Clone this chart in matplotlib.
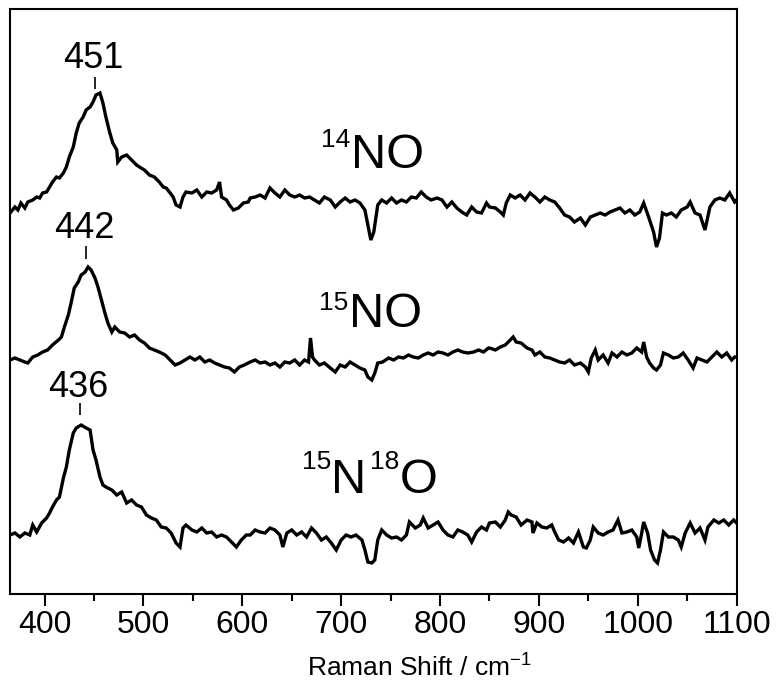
import matplotlib
matplotlib.use("Agg")
import matplotlib.pyplot as plt
from matplotlib.ticker import MultipleLocator
from matplotlib.transforms import offset_copy

plt.rcParams['font.family'] = ['Liberation Sans', 'DejaVu Sans']
plt.rcParams['mathtext.fontset'] = 'custom'
plt.rcParams['mathtext.rm'] = 'Liberation Sans'
plt.rcParams['mathtext.it'] = 'Liberation Sans'

# spectra as stacked in the figure (arbitrary intensity units, offsets included)
x_14no = [365, 370, 373, 376, 380, 383, 388, 392, 395, 398, 402, 405, 408, 412, 415,
          419, 422, 425, 429, 432, 435, 439, 442, 446, 449, 452, 456, 459, 462, 466,
          469, 473, 474, 478, 483, 488, 493, 496, 501, 506, 511, 516, 520, 523, 527,
          530, 533, 537, 540, 543, 549, 554, 559, 564, 569, 574, 577, 579, 584, 587,
          591, 596, 601, 606,
          608, 613, 618, 623, 628, 633, 638, 643, 648, 653, 658, 663, 668, 673, 678,
          683, 689, 694, 699, 704, 709, 714, 719, 724, 727, 730, 733, 737, 741, 746,
          751, 756, 761, 766, 771, 776, 781, 786, 791, 797, 802, 807, 812, 817, 822,
          827, 832, 837, 842, 847,
          850, 856, 861, 864, 867, 871, 876, 881, 886, 891, 896, 901, 906, 911, 916,
          921, 926, 931, 936, 942, 947, 952, 957, 962, 967, 972, 977, 982, 987, 992,
          997, 1002, 1006, 1011, 1016, 1019, 1022, 1025, 1029, 1034, 1039, 1044, 1050, 1053, 1058, 1063,
          1068, 1073, 1078, 1083, 1088, 1093, 1098, 1100]
y_14no = [387, 393, 390, 397, 392, 398, 400, 403, 402, 407, 408, 413, 418, 423, 422,
          427, 433, 443, 453, 467, 477, 483, 490, 493, 498, 505, 507, 497, 483, 467,
          457, 450, 438, 443, 445, 440, 435, 433, 430, 425, 423, 418, 413, 412, 407,
          403, 395, 393, 403, 408, 407, 410, 403, 408, 407, 410, 418, 403, 400, 395,
          390, 392, 397, 398,
          402, 403, 405, 402, 412, 407, 403, 410, 405, 403, 405, 402, 403, 400, 397,
          403, 400, 393, 398, 402, 398, 400, 397, 390, 375, 360, 368, 395, 400, 397,
          402, 397, 400, 398, 403, 402, 408, 403, 400, 402, 400, 393, 398, 392, 388,
          385, 393, 388, 387, 397,
          393, 392, 388, 385, 397, 405, 402, 405, 400, 407, 403, 398, 403, 400, 398,
          392, 385, 383, 378, 382, 375, 383, 385, 387, 385, 388, 390, 392, 387, 390,
          385, 388, 397, 383, 368, 353, 362, 387, 385, 387, 383, 390, 393, 398, 387, 385,
          370, 393, 400, 402, 400, 407, 398, 400]

x_15no = [365, 370, 375, 380, 383, 388, 393, 398, 403, 408, 414, 417, 420, 424, 427,
          430, 434, 437, 441, 444, 447, 451, 454, 457, 461, 464, 468, 471, 476, 481,
          486, 491, 496, 501, 506, 511, 516, 522, 527, 532, 537, 542, 547, 552, 557,
          562, 567, 572, 577, 582, 587, 592, 597, 602,
          608, 613, 618, 623, 628, 633, 638, 643, 648, 653, 658, 663, 667, 668, 669,
          671, 673, 678, 683, 689, 694, 699, 704, 709, 714, 719, 724, 727, 731, 734,
          737, 742, 748, 753, 758, 763, 768, 773, 778, 783, 788, 793, 798, 803, 808,
          813, 818, 823, 828, 834, 839, 844, 849,
          850, 856, 861, 866, 871, 874, 877, 882, 888, 893, 896, 901, 906, 911, 916,
          921, 926, 931, 936, 942, 947, 950, 953, 957, 960, 965, 970, 974, 979, 984,
          989, 994, 999, 1004, 1006, 1009, 1012, 1016, 1019, 1023, 1026, 1031, 1036, 1041, 1046,
          1051, 1056, 1060, 1065, 1070, 1075, 1080, 1085, 1090, 1095, 1098, 1100]
y_15no = [240, 242, 240, 238, 237, 243, 245, 248, 250, 255, 260, 263, 273, 285, 298,
          312, 318, 325, 328, 333, 330, 322, 313, 302, 287, 277, 268, 273, 268, 267,
          263, 265, 260, 257, 252, 250, 248, 245, 240, 235, 237, 240, 243, 240, 243,
          238, 240, 237, 235, 233, 232, 228, 233, 235,
          238, 240, 237, 238, 235, 237, 233, 238, 237, 240, 235, 240, 238, 250, 262,
          243, 240, 235, 237, 232, 228, 235, 233, 238, 235, 232, 230, 223, 220, 227,
          237, 238, 242, 240, 243, 242, 245, 243, 242, 245, 247, 245, 248, 247, 245,
          248, 250, 248, 247, 248, 250, 248, 252,
          252, 250, 253, 255, 260, 263, 258, 257, 252, 250, 245, 248, 243, 242, 240,
          238, 237, 240, 235, 237, 233, 228, 242, 250, 240, 245, 237, 247, 243, 248,
          245, 247, 252, 248, 258, 243, 237, 232, 230, 235, 247, 245, 242, 243, 247,
          240, 232, 242, 240, 238, 243, 248, 243, 247, 240, 243, 243]

x_15n18o = [365, 370, 375, 380, 385, 388, 392, 397, 402, 405, 408, 412, 415, 419, 422,
            425, 429, 432, 437, 442, 446, 449, 452, 456, 459, 462, 468, 473, 478, 483,
            488, 493, 498, 503, 508, 513, 518, 523, 528, 533, 537, 540, 543, 549, 554,
            559, 564, 569, 574, 579, 584, 589, 594, 599, 604,
            608, 613, 618, 623, 628, 633, 638, 641, 645, 650, 655, 660, 665, 670, 675,
            680, 685, 690, 695, 700, 705, 710, 715, 721, 724, 727, 731, 734, 737, 741,
            746, 751, 756, 761, 766, 769, 775, 780, 783, 788, 793, 798, 803, 808, 813,
            818, 823, 828, 832, 837, 842, 847,
            850, 856, 861, 866, 869, 872, 877, 882, 888, 893, 894, 898, 903, 908, 913,
            916, 920, 925, 930, 935, 940, 945, 948, 952, 955, 960, 965, 970, 975, 980,
            984, 989, 994, 999, 1001, 1004, 1006, 1010, 1013, 1017, 1020, 1023, 1026, 1031, 1036,
            1041, 1044, 1048, 1053, 1058, 1063, 1068, 1071, 1077, 1082, 1087, 1092, 1097, 1100]
y_15n18o = [65, 67, 63, 67, 65, 75, 68, 77, 82, 87, 93, 100, 103, 122, 133,
            150, 167, 172, 175, 172, 170, 150, 140, 123, 115, 113, 110, 105, 108, 97,
            100, 95, 93, 85, 82, 80, 73, 72, 67, 57, 53, 72, 75, 70, 68,
            72, 67, 68, 63, 65, 63, 58, 53, 60, 65,
            65, 70, 68, 67, 72, 70, 65, 53, 67, 70, 65, 68, 63, 72, 67,
            60, 63, 57, 50, 60, 65, 63, 65, 60, 50, 38, 37, 40, 60, 70,
            65, 62, 63, 60, 65, 78, 72, 75, 82, 72, 75, 78, 70, 65, 63,
            70, 68, 65, 58, 68, 73, 70,
            77, 78, 73, 80, 88, 85, 83, 75, 80, 78, 67, 77, 73, 72, 75,
            68, 60, 58, 62, 57, 68, 53, 52, 60, 73, 67, 65, 68, 70, 80,
            67, 68, 70, 63, 52, 67, 78, 67, 50, 40, 37, 50, 68, 63, 63,
            60, 53, 67, 77, 67, 72, 60, 73, 80, 77, 80, 75, 80, 77]

peaks = [451, 442, 436]

fig = plt.figure(figsize=(7.81, 6.92), dpi=100)
ax = fig.add_axes([10 / 781, 1 - 594 / 692, 726.6 / 781, 585 / 692])

for xs, ys in [(x_14no, y_14no), (x_15no, y_15no), (x_15n18o, y_15n18o)]:
    ax.plot(xs, ys, color='black', lw=2.4, solid_joinstyle='miter')

ax.set_xlim(365, 1100)
ax.set_ylim(6, 591)
ax.set_yticks([])
ax.xaxis.set_major_locator(MultipleLocator(100))
ax.xaxis.set_minor_locator(MultipleLocator(50))
ax.tick_params(axis='x', which='major', direction='out', length=8.6, width=1.5,
               labelsize=23, pad=3)
ax.tick_params(axis='x', which='minor', direction='out', length=5, width=1.5)
for sp in ax.spines.values():
    sp.set_linewidth(1.5)

ax.set_xlabel('Raman Shift / cm$^{-1}$', fontsize=19)
ax.xaxis.set_label_coords(0.563, -0.103)

# peak labels with short marker lines
label_y = [532, 362, 203]
tick_lo = [511, 341, 185]
tick_hi = [523, 354, 197]
for p, ty, lo, hi in zip(peaks, label_y, tick_lo, tick_hi):
    ax.text(p - 2, ty, str(p), fontsize=26, ha='center', va='baseline')
    ax.vlines(p, lo, hi, color='black', lw=1.2)

# isotope labels built from pieces (superscripts)
renderer = fig.canvas.get_renderer()


def iso_label(x, y, parts):
    dx = 0
    for s, size, rise in parts:
        tr = offset_copy(ax.transData, fig=fig, x=dx, y=rise, units='dots')
        t = ax.text(x, y, s, fontsize=size, transform=tr, va='baseline')
        dx += t.get_window_extent(renderer).width


iso_label(680, 432, [('14', 19, 21), ('NO', 35, 0)])
iso_label(678, 273, [('15', 19, 17), ('NO', 35, 0)])
iso_label(660, 107, [('15', 19, 24), ('N', 35, 0), (' ', 10, 0), ('18', 19, 24), ('O', 35, 0)])

fig.savefig('out.png', dpi=100)
